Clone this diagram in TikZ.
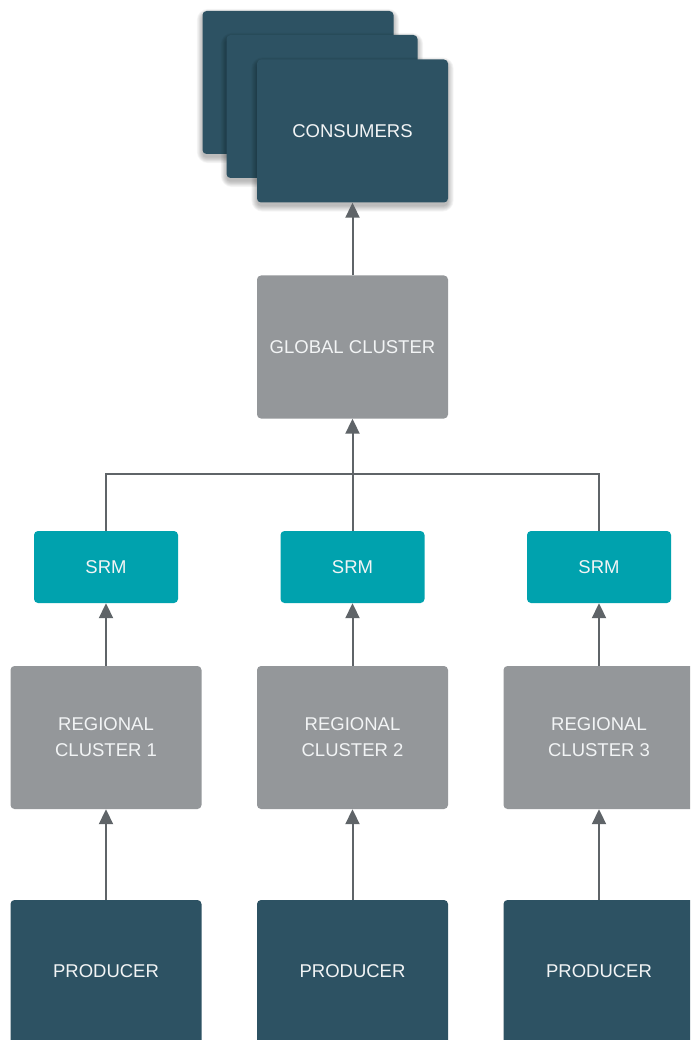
\documentclass[tikz,border=0pt]{standalone}
\usepackage{fontspec}
\setmainfont{Liberation Sans}
\usetikzlibrary{arrows.meta}
\definecolor{dark}{HTML}{2D5263}
\definecolor{grayb}{HTML}{94979A}
\definecolor{srm}{HTML}{00A2AE}
\definecolor{wire}{HTML}{5F6468}
\definecolor{txt}{HTML}{F2F4F5}
\tikzset{
  box/.style={rectangle, rounded corners=4pt, draw=none, text=txt, align=center,
    font=\fontsize{18.5}{26}\selectfont, inner sep=0pt},
  big/.style={box, minimum width=191pt, minimum height=143pt},
  darkbox/.style={big, fill=dark},
  graybox/.style={big, fill=grayb},
  srmbox/.style={box, fill=srm, minimum width=144pt, minimum height=72pt},
  shadelayer/.style={fill=black, fill opacity=0.035},
  wireline/.style={draw=wire, line width=2pt},
  arr/.style={wireline, -{Triangle[width=14pt,length=15pt]}}
}
\newcommand{\myshadow}[2]{%
  \foreach \i in {0,1,...,7}{%
    \fill[shadelayer, rounded corners=4pt+\i pt]
      ({#1-95.5-\i*0.8},{#2-71.5-\i*0.8+3.5}) rectangle ({#1+95.5+\i*0.8},{#2+71.5+\i*0.8+3.5});
  }%
}
\begin{document}
\begin{tikzpicture}[x=1pt,y=-1pt]
\useasboundingbox (0,0) rectangle (690,1040);
\clip (0,0) rectangle (690,1040);
\fill[white] (0,0) rectangle (690,1040);
% consumers stack
\myshadow{298}{82.5}
\node[darkbox] (c3) at (298,82.5) {};
\myshadow{322}{106.5}
\node[darkbox] (c2) at (322,106.5) {};
\myshadow{352.5}{131}
\node[darkbox] (c1) at (352.5,131) {CONSUMERS};
% global
\node[graybox] (g) at (352.5,347) {GLOBAL CLUSTER};
% SRMs
\node[srmbox] (s1) at (106,567) {SRM};
\node[srmbox] (s2) at (352.5,567) {SRM};
\node[srmbox] (s3) at (599,567) {SRM};
% regional
\node[graybox] (r1) at (106,737.5) {REGIONAL\\CLUSTER 1};
\node[graybox] (r2) at (352.5,737.5) {REGIONAL\\CLUSTER 2};
\node[graybox, minimum width=200pt, xshift=4.5pt] (r3) at (599,737.5) {};
\node[text=txt, align=center, font=\fontsize{18.5}{26}\selectfont] (rt3) at (599,737.5) {REGIONAL\\CLUSTER 3};
% producers
\node[darkbox, minimum height=150pt] (p1) at (106,975) {};
\node[darkbox, minimum height=150pt] (p2) at (352.5,975) {};
\node[darkbox, minimum height=150pt, minimum width=200pt, xshift=4.5pt] (p3) at (599,975) {};
\node[text=txt, font=\fontsize{18.5}{26}\selectfont] (pt1) at (106,971) {PRODUCER};
\node[text=txt, font=\fontsize{18.5}{26}\selectfont] (pt2) at (352.5,971) {PRODUCER};
\node[text=txt, font=\fontsize{18.5}{26}\selectfont] (pt3) at (599,971) {PRODUCER};
% connectors
\draw[arr] (pt1.north |- p1.north) -- (pt1.north |- r1.south);
\draw[arr] (p2.north) -- (r2.south);
\draw[arr] (pt3.north |- p3.north) -- (pt3.north |- r3.south);
\draw[arr] (r1.north) -- (s1.south);
\draw[arr] (r2.north) -- (s2.south);
\draw[arr] (rt3.north |- r3.north) -- (s3.south);
\coordinate (j1) at (106,474);
\draw[wireline] (s1.north) -- (j1) -| (s3.north);
\draw[arr] (s2.north) -- (g.south);
\draw[arr] (g.north) -- (c1.south);
\end{tikzpicture}
\end{document}
